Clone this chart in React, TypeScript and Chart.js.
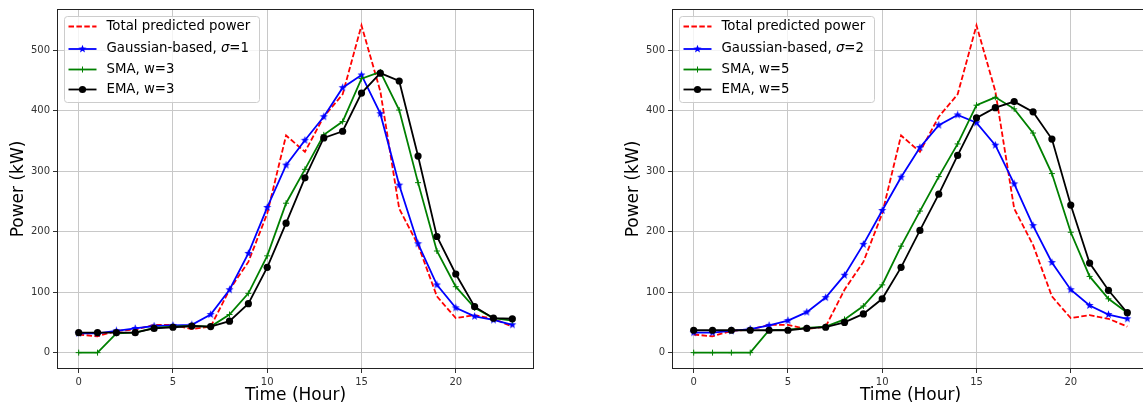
import React, { useEffect, useRef } from "react";
import { Chart, registerables } from "chart.js";

Chart.register(...registerables);

// ---------- data ----------
const hours = [0, 1, 2, 3, 4, 5, 6, 7, 8, 9, 10, 11, 12, 13, 14, 15, 16, 17, 18, 19, 20, 21, 22, 23];

const totalPredicted = [30, 27, 36, 38, 46, 46, 39, 43, 104, 150, 230, 359, 332, 390, 427, 541, 432, 238, 178, 93, 57, 62, 56, 43];

const gaussSigma1 = [32, 32, 36, 40, 44, 45, 46, 63, 104, 164, 240, 310, 351, 390, 438, 459, 395, 277, 180, 112, 74, 60, 54, 46];
const smaW3 = [0, 0, 32, 33, 41, 43, 44, 43, 63, 98, 160, 247, 303, 360, 382, 453, 464, 401, 281, 168, 109, 74, 57, 53];
const emaW3 = [33, 33, 33, 33, 40, 42, 44, 43, 52, 81, 141, 214, 289, 355, 366, 429, 462, 449, 325, 192, 130, 76, 57, 56];

const gaussSigma2 = [33, 33, 36, 39, 45, 53, 67, 91, 128, 179, 235, 290, 339, 376, 393, 380, 343, 279, 210, 149, 104, 78, 63, 56];
const smaW5 = [0, 0, 0, 0, 37, 38, 41, 43, 55, 77, 112, 176, 234, 291, 345, 409, 422, 403, 363, 296, 199, 126, 89, 66];
const emaW5 = [37, 37, 37, 37, 37, 37, 40, 42, 50, 64, 89, 141, 202, 262, 326, 388, 405, 415, 398, 353, 244, 148, 103, 66];

const xTicks = [0, 5, 10, 15, 20];
const yTicks = [0, 100, 200, 300, 400, 500];

const xTitle = "Time (Hour)";
const yTitle = "Power (kW)";
const labelTotal = "Total predicted power";
const labelGaussPrefix = "Gaussian-based, ";
const labelSigma = "σ";

const FONT = "'DejaVu Sans', 'Liberation Sans', sans-serif";
const RED = "#ff0000";
const BLUE = "#0000ff";
const GREEN = "#008000";
const BLACK = "#000000";

// ---------- marker helpers ----------
function starPath(ctx: CanvasRenderingContext2D, cx: number, cy: number, R: number) {
  const r = R * 0.42;
  ctx.beginPath();
  for (let i = 0; i < 10; i++) {
    const a = -Math.PI / 2 + (i * Math.PI) / 5;
    const rad = i % 2 === 0 ? R : r;
    const px = cx + rad * Math.cos(a);
    const py = cy + rad * Math.sin(a);
    if (i === 0) ctx.moveTo(px, py);
    else ctx.lineTo(px, py);
  }
  ctx.closePath();
}

function makeStar(color: string, size: number) {
  const c = document.createElement("canvas");
  c.width = size;
  c.height = size;
  const ctx = c.getContext("2d")!;
  starPath(ctx, size / 2, size / 2, size / 2 - 0.3);
  ctx.fillStyle = color;
  ctx.fill();
  return c;
}

function drawMarker(ctx: CanvasRenderingContext2D, kind: string, x: number, y: number, color: string) {
  ctx.save();
  if (kind === "star") {
    starPath(ctx, x, y, 4.2);
    ctx.fillStyle = color;
    ctx.fill();
  } else if (kind === "plus") {
    ctx.strokeStyle = color;
    ctx.lineWidth = 1;
    ctx.beginPath();
    ctx.moveTo(x - 3, y);
    ctx.lineTo(x + 3, y);
    ctx.moveTo(x, y - 3);
    ctx.lineTo(x, y + 3);
    ctx.stroke();
  } else if (kind === "circle") {
    ctx.fillStyle = color;
    ctx.beginPath();
    ctx.arc(x, y, 3.6, 0, Math.PI * 2);
    ctx.fill();
  }
  ctx.restore();
}

// ---------- panel ----------
type PanelProps = {
  left: number;
  gauss: number[];
  sma: number[];
  ema: number[];
  sigmaValue: string;
  smaLabel: string;
  emaLabel: string;
};

function Panel({ left, gauss, sma, ema, sigmaValue, smaLabel, emaLabel }: PanelProps) {
  const ref = useRef<HTMLCanvasElement | null>(null);

  useEffect(() => {
    if (!ref.current) return;
    const all = [...totalPredicted, ...gauss, ...sma, ...ema];
    const dMin = Math.min(...all);
    const dMax = Math.max(...all);
    const yPad = (dMax - dMin) * 0.05;
    const xPad = (hours[hours.length - 1] - hours[0]) * 0.05;

    const pts = (vals: number[]) => hours.map((h, i) => ({ x: h, y: vals[i] }));
    const star = makeStar(BLUE, 9);

    const framePlugin = {
      id: "frame",
      afterDatasetsDraw(chart: any) {
        const { ctx, chartArea } = chart;
        const l = Math.round(chartArea.left) + 0.5;
        const t = Math.round(chartArea.top) + 0.5;
        const r = Math.round(chartArea.right) - 0.5;
        const b = Math.round(chartArea.bottom) - 0.5;
        ctx.save();
        ctx.strokeStyle = "#222";
        ctx.lineWidth = 1;
        ctx.strokeRect(l, t, r - l, b - t);
        ctx.restore();

        // legend
        const bx = Math.round(chartArea.left) + 7.5;
        const by = Math.round(chartArea.top) + 7.5;
        const bw = 195;
        const bh = 86;
        ctx.save();
        ctx.beginPath();
        const rad = 3;
        ctx.moveTo(bx + rad, by);
        ctx.lineTo(bx + bw - rad, by);
        ctx.quadraticCurveTo(bx + bw, by, bx + bw, by + rad);
        ctx.lineTo(bx + bw, by + bh - rad);
        ctx.quadraticCurveTo(bx + bw, by + bh, bx + bw - rad, by + bh);
        ctx.lineTo(bx + rad, by + bh);
        ctx.quadraticCurveTo(bx, by + bh, bx, by + bh - rad);
        ctx.lineTo(bx, by + rad);
        ctx.quadraticCurveTo(bx, by, bx + rad, by);
        ctx.closePath();
        ctx.fillStyle = "rgba(255,255,255,0.8)";
        ctx.fill();
        ctx.strokeStyle = "#cccccc";
        ctx.lineWidth = 1;
        ctx.stroke();

        const rows = [
          { dy: 10, color: RED, dash: [5.5, 2.4], marker: "" },
          { dy: 32.5, color: BLUE, dash: [], marker: "star" },
          { dy: 53, color: GREEN, dash: [], marker: "plus" },
          { dy: 73, color: BLACK, dash: [], marker: "circle" },
        ];
        const lx0 = bx + 4;
        const lx1 = bx + 32;
        const tx = bx + 42;
        rows.forEach((row, i) => {
          const y = by + row.dy;
          ctx.save();
          ctx.strokeStyle = row.color;
          ctx.lineWidth = 1.8;
          ctx.setLineDash(row.dash);
          ctx.beginPath();
          ctx.moveTo(lx0, y);
          ctx.lineTo(lx1, y);
          ctx.stroke();
          ctx.restore();
          if (row.marker) drawMarker(ctx, row.marker, (lx0 + lx1) / 2, y, row.color);

          ctx.fillStyle = "#000";
          ctx.textBaseline = "middle";
          ctx.textAlign = "left";
          ctx.font = `13.3px ${FONT}`;
          if (i === 0) ctx.fillText(labelTotal, tx, y);
          else if (i === 1) {
            ctx.fillText(labelGaussPrefix, tx, y);
            let w = ctx.measureText(labelGaussPrefix).width;
            ctx.font = `italic 13.3px ${FONT}`;
            ctx.fillText(labelSigma, tx + w, y);
            w += ctx.measureText(labelSigma).width;
            ctx.font = `13.3px ${FONT}`;
            ctx.fillText("=" + sigmaValue, tx + w, y);
          } else if (i === 2) ctx.fillText(smaLabel, tx, y);
          else ctx.fillText(emaLabel, tx, y);
        });
        ctx.restore();
      },
    };

    const chart = new Chart(ref.current, {
      type: "line",
      data: {
        datasets: [
          {
            label: labelTotal,
            data: pts(totalPredicted),
            borderColor: RED,
            borderWidth: 1.8,
            borderDash: [5.5, 2.4],
            pointRadius: 0,
            tension: 0,
            order: 3,
          },
          {
            label: "gauss",
            data: pts(gauss),
            borderColor: BLUE,
            borderWidth: 1.8,
            pointStyle: star as any,
            pointRadius: 4,
            tension: 0,
            order: 2,
          },
          {
            label: smaLabel,
            data: pts(sma),
            borderColor: GREEN,
            borderWidth: 1.8,
            pointStyle: "cross",
            pointRadius: 3,
            pointBorderWidth: 1,
            pointBorderColor: GREEN,
            tension: 0,
            order: 1,
          },
          {
            label: emaLabel,
            data: pts(ema),
            borderColor: BLACK,
            borderWidth: 1.8,
            pointStyle: "circle",
            pointRadius: 3.6,
            pointBorderWidth: 0,
            pointBackgroundColor: BLACK,
            tension: 0,
            order: 0,
          },
        ],
      },
      options: {
        animation: false,
        responsive: false,
        devicePixelRatio: 1,
        events: [],
        layout: { padding: { top: 7, right: 6, left: 0, bottom: 0 } },
        plugins: { legend: { display: false }, tooltip: { enabled: false } },
        scales: {
          x: {
            type: "linear",
            min: hours[0] - xPad,
            max: hours[hours.length - 1] + xPad,
            afterBuildTicks: (axis: any) => {
              axis.ticks = xTicks.map((v) => ({ value: v }));
            },
            afterFit: (s: any) => {
              s.height = 41;
            },
            ticks: {
              font: { family: FONT, size: 10 },
              color: "#333",
              padding: 3,
              maxRotation: 0,
              autoSkip: false,
              callback: (v: any) => String(v),
            },
            grid: { color: "#c8c8c8", lineWidth: 1, tickColor: "#333", tickLength: 4 },
            border: { display: false },
            title: {
              display: true,
              text: xTitle,
              font: { family: FONT, size: 17 },
              color: "#000",
              padding: { top: 0, bottom: 4 },
            },
          },
          y: {
            type: "linear",
            min: dMin - yPad,
            max: dMax + yPad,
            afterBuildTicks: (axis: any) => {
              axis.ticks = yTicks.map((v) => ({ value: v }));
            },
            afterFit: (s: any) => {
              s.width = 57;
            },
            ticks: {
              font: { family: FONT, size: 10 },
              color: "#333",
              padding: 3,
              autoSkip: false,
              callback: (v: any) => String(v),
            },
            grid: { color: "#c8c8c8", lineWidth: 1, tickColor: "#333", tickLength: 4 },
            border: { display: false },
            title: {
              display: true,
              text: yTitle,
              font: { family: FONT, size: 17 },
              color: "#000",
              padding: { top: 8, bottom: 0 },
            },
          },
        },
      } as any,
      plugins: [framePlugin],
    });
    return () => chart.destroy();
  }, []);

  return (
    <canvas
      ref={ref}
      width={540}
      height={410}
      style={{ position: "absolute", left, top: 0, width: 540, height: 410 }}
    />
  );
}

export default function App() {
  return (
    <div
      style={{
        position: "absolute",
        left: 0,
        top: 0,
        width: 1143,
        height: 410,
        overflow: "hidden",
        background: "#fff",
      }}
    >
      <Panel left={0} gauss={gaussSigma1} sma={smaW3} ema={emaW3} sigmaValue="1" smaLabel="SMA, w=3" emaLabel="EMA, w=3" />
      <Panel left={615} gauss={gaussSigma2} sma={smaW5} ema={emaW5} sigmaValue="2" smaLabel="SMA, w=5" emaLabel="EMA, w=5" />
    </div>
  );
}
